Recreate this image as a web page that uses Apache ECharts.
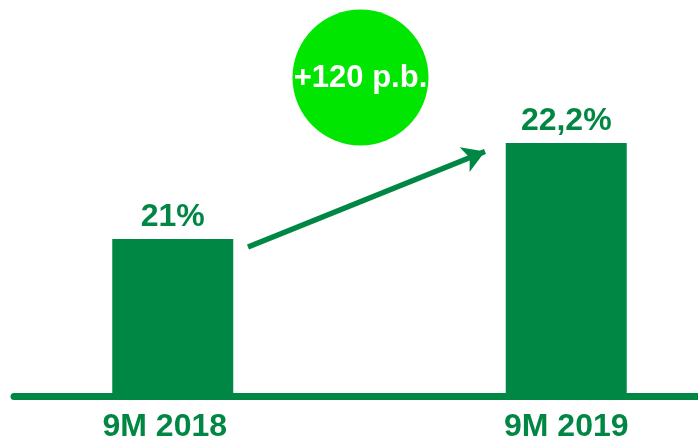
<!DOCTYPE html>
<html><head><meta charset="utf-8">
<script src="https://cdn.jsdelivr.net/npm/echarts@6/dist/echarts.min.js"></script>
<style>html,body{margin:0;padding:0;background:#fff}#c{width:698px;height:441px}</style>
</head><body><div id="c"></div>
<script>
const categories = ['9M 2018', '9M 2019'];
const values = [21, 22.2];
const valueLabels = ['21%', '22,2%'];
const badgeText = '+120 p.b.';

const DARK = '#008743';
const BRIGHT = '#00e600';
const FONT = '"Liberation Sans", Arial, sans-serif';

const chart = echarts.init(document.getElementById('c'), null, {renderer: 'canvas'});
chart.setOption({
  animation: false,
  backgroundColor: '#fff',
  grid: [
    {left: -24, width: 787, top: 0, bottom: 44.5, outerBoundsMode: 'none', containLabel: false},
    {left: 14, right: 0, bottom: 44.5, height: 10, outerBoundsMode: 'none', containLabel: false}
  ],
  xAxis: [
    {type: 'category', gridIndex: 0,
     data: categories.map((c, i) => i === 0 ? {value: c, textStyle: {padding: [0, 16, 0, 0]}} : c),
     axisLine: {show: false}, axisTick: {show: false},
     axisLabel: {color: DARK, fontFamily: FONT, fontWeight: 'bold', fontSize: 32, margin: 15}},
    {type: 'value', gridIndex: 1, min: 0, max: 1,
     axisLine: {show: true, lineStyle: {color: DARK, width: 7}},
     axisTick: {show: false}, axisLabel: {show: false}, splitLine: {show: false}}
  ],
  yAxis: [
    {type: 'value', gridIndex: 0, min: 19.03, max: 23.99, show: false, splitLine: {show: false}},
    {type: 'value', gridIndex: 1, show: false, splitLine: {show: false}}
  ],
  series: [{
    type: 'bar',
    data: values,
    barWidth: 121,
    itemStyle: {color: DARK},
    z: 3,
    label: {
      show: true, position: 'top', distance: 6,
      color: DARK, fontFamily: FONT, fontWeight: 'bold', fontSize: 32,
      formatter: p => valueLabels[p.dataIndex]
    },
    markLine: {
      silent: true,
      symbol: ['none', 'arrow'],
      symbolSize: [20, 22],
      label: {show: false},
      lineStyle: {color: DARK, width: 5.5, type: 'solid'},
      data: [[{x: 248, y: 247}, {x: 485, y: 151.5}]]
    }
  }],
  graphic: [
    {type: 'circle', shape: {cx: 360.5, cy: 77.5, r: 68}, style: {fill: BRIGHT}, z: 10},
    {type: 'text', x: 360.5, y: 78, z: 11,
     style: {text: badgeText, fill: '#fff', font: 'bold 31px ' + FONT, align: 'center', verticalAlign: 'middle'}}
  ]
});
</script></body></html>
